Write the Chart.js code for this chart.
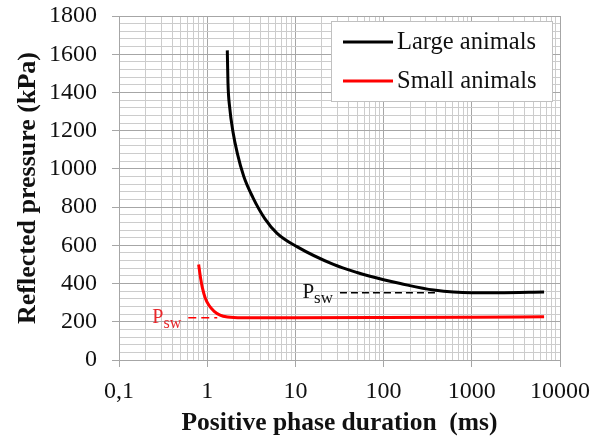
<!DOCTYPE html>
<html lang="en">
<head>
    <meta charset="UTF-8">
    <title>Reflected pressure vs positive phase duration</title>
    <script src="https://cdn.jsdelivr.net/npm/chart.js@4.4.2/dist/chart.umd.min.js"></script>
    <style>
        body {
          margin: 0;
          padding: 0;
          background-color: #fff;}
        #wrap {
          width: 602px;
          height: 441px;}
    </style>
</head>
<body>
    <div id="wrap"><canvas id="pressureGraph" width="602" height="441"></canvas></div>

<script>
    // Values: duration (ms), reflected pressure (kPa)
    const largeDuration = [1.69, 1.72, 1.8, 1.95, 2.2, 2.6, 3.3, 4.5, 6.2, 10.4, 27, 50, 100, 155, 370, 1000, 2000, 6600];
    const largePressure = [1620, 1450, 1320, 1200, 1080, 960, 850, 740, 663, 593, 500, 458, 420, 400, 366, 352, 352, 356];
    const smallDuration = [0.8, 0.84, 0.88, 0.95, 1.05, 1.2, 1.4, 1.7, 2.5, 10, 100, 1000, 6600];
    const smallPressure = [500, 430, 380, 325, 285, 255, 235, 225, 221, 221, 222, 224, 226];

    // dashed P_sw reference lines
    const largePswDuration = [32, 400];
    const largePswPressure = [352, 352];
    const smallPswDuration = [0.61, 1.3];
    const smallPswPressure = [221, 221];

    const seriesLabels = ['Large animals', 'Small animals'];
    const xDecades = [0.1, 1, 10, 100, 1000, 10000];
    const xTickLabels = ['0,1', '1', '10', '100', '1000', '10000'];
    const yMajorStep = 200;
    const yMinorStep = 40;
    const yMax = 1800;

    function toPoints(xs, ys) {
        return xs.map((x, i) => ({x: x, y: ys[i]}));
    }

    function decadeIndex(v) {
        return xDecades.findIndex(d => Math.abs(Math.log10(v) - Math.log10(d)) < 1e-6);
    }

    // gridline positions: 1..9 in every decade
    const xGridValues = [];
    for (let i = 0; i < xDecades.length - 1; i++) {
        for (let m = 1; m < 10; m++) {
            xGridValues.push(+(m * xDecades[i]).toPrecision(6));
        }
    }
    xGridValues.push(xDecades[xDecades.length - 1]);

    const serif = "'Liberation Serif', 'Times New Roman', serif";

    // Custom legend box inside the plot, top right
    const boxLegend = {
        id: 'boxLegend',
        afterDraw(chart) {
            const ctx = chart.ctx;
            const area = chart.chartArea;
            const x0 = area.right - 229, y0 = area.top + 5, w = 221, h = 80;
            ctx.save();
            ctx.fillStyle = '#fff';
            ctx.fillRect(x0, y0, w, h);
            ctx.strokeStyle = '#c0c0c0';
            ctx.lineWidth = 1;
            ctx.strokeRect(x0 + 0.5, y0 + 0.5, w, h);
            ctx.font = '24.5px ' + serif;
            ctx.textBaseline = 'middle';
            for (let i = 0; i < 2; i++) {
                const ds = chart.data.datasets[i];
                const yy = y0 + 21 + i * 39;
                ctx.strokeStyle = ds.borderColor;
                ctx.lineWidth = 3;
                ctx.beginPath();
                ctx.moveTo(x0 + 12, yy);
                ctx.lineTo(x0 + 62, yy);
                ctx.stroke();
                ctx.fillStyle = '#111';
                ctx.fillText(seriesLabels[i], x0 + 66, yy + 1);
            }
            ctx.restore();
        }
    };

    // "P sw" labels in front of the dashed lines
    const pswLabels = {
        id: 'pswLabels',
        afterDatasetsDraw(chart) {
            const ctx = chart.ctx;
            const xs = chart.scales.x, ys = chart.scales.y;
            const items = [
                {x: largePswDuration[0], y: largePswPressure[0], color: '#111', size: 21},
                {x: smallPswDuration[0], y: smallPswPressure[0], color: '#e8262a', size: 20}
            ];
            ctx.save();
            ctx.textBaseline = 'alphabetic';
            items.forEach(it => {
                const px = xs.getPixelForValue(it.x);
                const py = ys.getPixelForValue(it.y);
                const subSize = Math.round(it.size * 0.82);
                ctx.font = it.size + 'px ' + serif;
                const wP = ctx.measureText('P').width;
                ctx.font = subSize + 'px ' + serif;
                const wS = ctx.measureText('sw').width;
                const left = px - 7 - wP - wS;
                ctx.fillStyle = it.color;
                ctx.font = it.size + 'px ' + serif;
                ctx.fillText('P', left, py + 5);
                ctx.font = subSize + 'px ' + serif;
                ctx.fillText('sw', left + wP, py + 10);
            });
            ctx.restore();
        }
    };

    const ctx = document.getElementById('pressureGraph').getContext('2d');
    const pressureGraph = new Chart(ctx, {
        type: 'line',
        data: {
            datasets: [
                {
                    label: seriesLabels[0],
                    data: toPoints(largeDuration, largePressure),
                    borderColor: '#000000',
                    borderWidth: 3,
                    pointRadius: 0,
                    cubicInterpolationMode: 'monotone',
                    fill: false},
                {
                    label: seriesLabels[1],
                    data: toPoints(smallDuration, smallPressure),
                    borderColor: '#ff0000',
                    borderWidth: 3,
                    pointRadius: 0,
                    cubicInterpolationMode: 'monotone',
                    fill: false},
                {
                    label: 'Psw large',
                    data: toPoints(largePswDuration, largePswPressure),
                    borderColor: '#000000',
                    borderWidth: 1.6,
                    borderDash: [7, 4],
                    pointRadius: 0,
                    fill: false},
                {
                    label: 'Psw small',
                    data: toPoints(smallPswDuration, smallPswPressure),
                    borderColor: '#ff0000',
                    borderWidth: 1.6,
                    borderDash: [8, 5],
                    pointRadius: 0,
                    fill: false}
            ]},
        options: {
            responsive: false,
            animation: false,
            layout: {
                padding: {top: 16, right: 42, left: 0, bottom: 0}},
            scales: {
                x: {
                    type: 'logarithmic',
                    min: xDecades[0],
                    max: xDecades[xDecades.length - 1],
                    afterBuildTicks: function(scale) {
                        scale.ticks = xGridValues.map(v => ({value: v}));},
                    afterFit: function(scale) {
                        scale.height = 81;},
                    border: {color: '#a6a6a6'},
                    grid: {
                        color: function(context) {
                            return decadeIndex(context.tick.value) >= 0 ? '#a6a6a6' : '#cccccc';},
                        tickColor: function(context) {
                            return decadeIndex(context.tick.value) >= 0 ? '#a6a6a6' : 'rgba(0,0,0,0)';},
                        tickLength: 7},
                    ticks: {
                        autoSkip: false,
                        maxRotation: 0,
                        padding: 10,
                        color: '#111',
                        font: {family: serif, size: 24},
                        callback: function(value) {
                            const i = decadeIndex(value);
                            return i >= 0 ? xTickLabels[i] : '';}},
                    title: {
                        display: true,
                        text: 'Positive phase duration  (ms)',
                        color: '#111',
                        padding: {top: 0, bottom: 2},
                        font: {family: serif, size: 25.5, weight: 'bold'}}},
                y: {
                    min: 0,
                    max: yMax,
                    afterFit: function(scale) {
                        scale.width = 119;
                        // tick padding would otherwise push the plot top down
                        scale.paddingTop = 12;
                        scale.paddingBottom = 12;},
                    border: {color: '#a6a6a6'},
                    grid: {
                        color: function(context) {
                            return context.tick.value % yMajorStep === 0 ? '#a6a6a6' : '#cccccc';},
                        tickColor: function(context) {
                            return context.tick.value % yMajorStep === 0 ? '#a6a6a6' : 'rgba(0,0,0,0)';},
                        tickLength: 7},
                    ticks: {
                        stepSize: yMinorStep,
                        maxTicksLimit: 100,
                        autoSkip: false,
                        padding: 15,
                        color: '#111',
                        font: {family: serif, size: 24},
                        callback: function(value) {
                            return value % yMajorStep === 0 ? String(value) : '';}},
                    title: {
                        display: true,
                        text: 'Reflected pressure (kPa)',
                        color: '#111',
                        padding: {top: 13, bottom: 0},
                        font: {family: serif, size: 26, weight: 'bold'}}}},
            plugins: {
                legend: {display: false},
                tooltip: {enabled: false}}},
        plugins: [boxLegend, pswLabels]
    });
</script>
</body>
</html>
